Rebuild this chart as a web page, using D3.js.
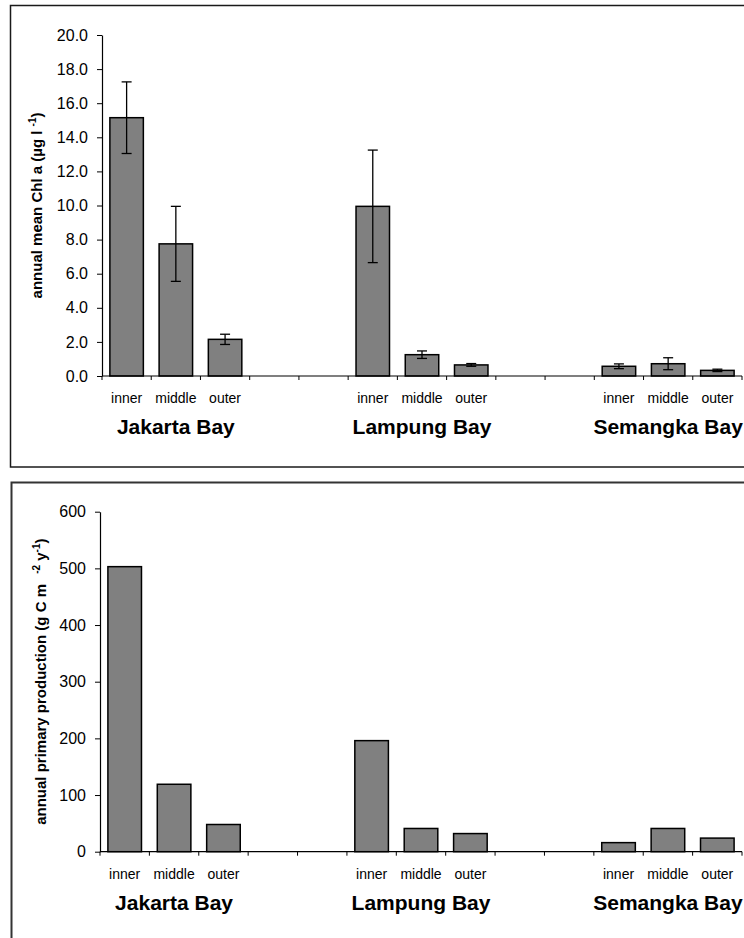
<!DOCTYPE html>
<html>
<head>
<meta charset="utf-8">
<script src="https://cdn.jsdelivr.net/npm/d3@7"></script>
<style>
  html, body { margin: 0; padding: 0; background: #fff; }
  svg { display: block; font-family: "Liberation Sans", Arial, sans-serif; }
</style>
</head>
<body>
<svg id="chart" width="744" height="938"></svg>
<script>
// ---- data ----
const bays = ["Jakarta Bay", "Lampung Bay", "Semangka Bay"];
const zones = ["inner", "middle", "outer"];
const chlMean = [15.15, 7.75, 2.15, 9.95, 1.25, 0.65, 0.57, 0.72, 0.33];
const chlErr  = [2.10, 2.20, 0.30, 3.30, 0.22, 0.08, 0.14, 0.35, 0.07];
const primaryProduction = [503, 119, 48, 196, 41, 32, 16, 41, 24];
const chlTicks = [0, 2, 4, 6, 8, 10, 12, 14, 16, 18, 20];
const ppTicks = [0, 100, 200, 300, 400, 500, 600];
const slotsPerBay = 5; // 3 zones + 2 empty slots
const nSlots = 13;

const rows = [];
bays.forEach((b, bi) => zones.forEach((z, zi) => {
  const k = bi * 3 + zi;
  rows.push({ bay: b, zone: z, slot: bi * slotsPerBay + zi,
              chl: chlMean[k], err: chlErr[k], pp: primaryProduction[k] });
}));

const svg = d3.select("#chart");
const FONT = '"Liberation Sans", Arial, sans-serif';

function panel(cfg) {
  const g = svg.append("g");
  // frame
  g.append("rect").attr("x", cfg.frame[0]).attr("y", cfg.frame[1])
    .attr("width", 900).attr("height", cfg.frame[2])
    .attr("fill", "none").attr("stroke", cfg.frameColor).attr("stroke-width", cfg.frameWidth);

  const pad = 0.32;
  const x = d3.scaleBand().domain(d3.range(nSlots)).range([cfg.x0, cfg.x1])
    .paddingInner(pad).paddingOuter(pad / 2);
  const y = d3.scaleLinear().domain(cfg.domain).range([cfg.yBase, cfg.yTop]);

  // y axis
  const ya = g.append("g").attr("transform", `translate(${cfg.x0},0)`)
    .call(d3.axisLeft(y).tickValues(cfg.ticks).tickFormat(cfg.fmt)
      .tickSize(5).tickSizeOuter(0).tickPadding(9));
  ya.select(".domain").attr("stroke", "#000").attr("stroke-width", 1.2);
  ya.selectAll(".tick line").attr("stroke", "#000");
  ya.selectAll(".tick text").attr("font-family", FONT).attr("font-size", 16).attr("fill", "#000");

  // bars
  g.selectAll("rect.bar").data(rows).join("rect").attr("class", "bar")
    .attr("x", d => x(d.slot)).attr("width", x.bandwidth())
    .attr("y", d => y(d[cfg.key])).attr("height", d => y(0) - y(d[cfg.key]))
    .attr("fill", "#808080").attr("stroke", "#000").attr("stroke-width", 1.5);

  // error bars
  if (cfg.err) {
    const eg = g.selectAll("g.err").data(rows).join("g").attr("class", "err")
      .attr("stroke", "#000").attr("stroke-width", 1.3);
    const cx = d => x(d.slot) + x.bandwidth() / 2;
    eg.append("line").attr("x1", cx).attr("x2", cx)
      .attr("y1", d => y(d.chl + d.err)).attr("y2", d => y(d.chl - d.err));
    eg.append("line").attr("x1", d => cx(d) - 5).attr("x2", d => cx(d) + 5)
      .attr("y1", d => y(d.chl + d.err)).attr("y2", d => y(d.chl + d.err));
    eg.append("line").attr("x1", d => cx(d) - 5).attr("x2", d => cx(d) + 5)
      .attr("y1", d => y(d.chl - d.err)).attr("y2", d => y(d.chl - d.err));
  }

  // x axis line + boundary ticks
  const step = x.step();
  const bx = i => x(i) - step * pad / 2;
  g.append("line").attr("x1", cfg.x0).attr("x2", cfg.x1)
    .attr("y1", y(0)).attr("y2", y(0)).attr("stroke", "#000").attr("stroke-width", 1.2);
  g.selectAll("line.xt").data(d3.range(nSlots + 1)).join("line").attr("class", "xt")
    .attr("x1", i => i === nSlots ? cfg.x1 : bx(i)).attr("x2", i => i === nSlots ? cfg.x1 : bx(i))
    .attr("y1", y(0)).attr("y2", y(0) + 4).attr("stroke", "#000");

  // category labels
  g.selectAll("text.cat").data(rows).join("text").attr("class", "cat")
    .attr("x", d => x(d.slot) + x.bandwidth() / 2).attr("y", y(0) + 27)
    .attr("text-anchor", "middle").attr("font-size", 14).attr("fill", "#000")
    .text(d => d.zone);

  // bay labels
  g.selectAll("text.bay").data(bays).join("text").attr("class", "bay")
    .attr("x", (b, bi) => x(bi * slotsPerBay + 1) + x.bandwidth() / 2)
    .attr("y", y(0) + 58)
    .attr("text-anchor", "middle").attr("font-size", 21).attr("font-weight", "bold")
    .attr("fill", "#000").text(b => b);

  // y title
  const t = g.append("text")
    .attr("transform", `translate(${cfg.titleX},${(cfg.yBase + cfg.yTop) / 2}) rotate(-90)`)
    .attr("text-anchor", "middle").attr("font-size", 15).attr("font-weight", "bold")
    .attr("fill", "#000");
  cfg.title(t);
}

panel({
  frame: [10.5, 5.5, 461.5], frameColor: "#1a1a1a", frameWidth: 1.5,
  x0: 102, x1: 742, yBase: 376, yTop: 35, domain: [0, 20],
  ticks: chlTicks, fmt: d3.format(".1f"), key: "chl", err: true, titleX: 42,
  title: t => {
    t.append("tspan").text("annual mean Chl a (µg l ");
    t.append("tspan").attr("dy", -6).attr("font-size", 10).text("-1");
    t.append("tspan").attr("dy", 6).text(")");
  }
});

panel({
  frame: [11.5, 482.5, 600], frameColor: "#333", frameWidth: 2,
  x0: 100, x1: 742, yBase: 851.7, yTop: 511.7, domain: [0, 600],
  ticks: ppTicks, fmt: d3.format("d"), key: "pp", err: false, titleX: 46,
  title: t => {
    t.append("tspan").text("annual primary production (g C m ");
    t.append("tspan").attr("dx", 6).attr("dy", -6).attr("font-size", 10).text("-2");
    t.append("tspan").attr("dy", 6).text(" y");
    t.append("tspan").attr("dy", -6).attr("font-size", 10).text("-1");
    t.append("tspan").attr("dy", 6).text(")");
  }
});
</script>
</body>
</html>
